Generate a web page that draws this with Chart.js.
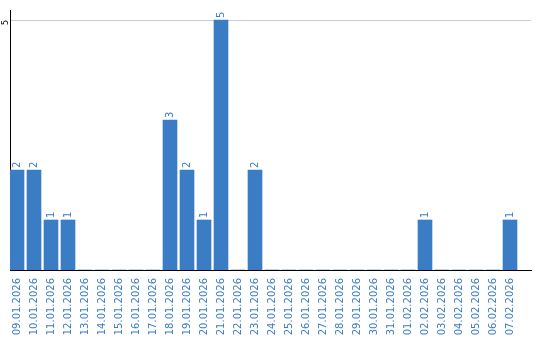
<!DOCTYPE html>
<html>
<head>
<meta charset="utf-8">
<script src="https://cdn.jsdelivr.net/npm/chart.js@4/dist/chart.umd.min.js"></script>
<style>
  html, body { margin: 0; padding: 0; background: #fff; }
  #wrap { width: 540px; height: 340px; }
</style>
</head>
<body>
<div id="wrap"><canvas id="chartdiv" width="540" height="340"></canvas></div>
<script>
var days = ["09.01.2026", "10.01.2026", "11.01.2026", "12.01.2026", "13.01.2026", "14.01.2026",
  "15.01.2026", "16.01.2026", "17.01.2026", "18.01.2026", "19.01.2026", "20.01.2026",
  "21.01.2026", "22.01.2026", "23.01.2026", "24.01.2026", "25.01.2026", "26.01.2026",
  "27.01.2026", "28.01.2026", "29.01.2026", "30.01.2026", "31.01.2026", "01.02.2026",
  "02.02.2026", "03.02.2026", "04.02.2026", "05.02.2026", "06.02.2026", "07.02.2026"];
var counts = [2, 2, 1, 1, 0, 0, 0, 0, 0, 3, 2, 1, 5, 0, 2, 0, 0, 0, 0, 0, 0, 0, 0, 0, 1, 0, 0, 0, 0, 1];
var yTicks = [5];

var blue = "#3b7dc4";

// value labels above the bars, rotated like the axis labels
var barLabels = {
  id: "barLabels",
  afterDatasetsDraw: function (chart) {
    var ctx = chart.ctx;
    var meta = chart.getDatasetMeta(0);
    ctx.save();
    ctx.fillStyle = blue;
    ctx.font = "10px 'DejaVu Sans'";
    ctx.textAlign = "left";
    ctx.textBaseline = "middle";
    meta.data.forEach(function (bar, i) {
      if (!counts[i]) return;
      ctx.save();
      ctx.translate(bar.x, bar.y - 2);
      ctx.rotate(-Math.PI / 2);
      ctx.fillText(String(counts[i]), 0, 0);
      ctx.restore();
    });
    ctx.restore();
  }
};

var chart = new Chart(document.getElementById("chartdiv"), {
  type: "bar",
  data: {
    datasets: [{
      data: counts.map(function (v, i) { return { x: i, y: v }; }),
      backgroundColor: blue,
      borderWidth: 0,
      barThickness: 14
    }]
  },
  plugins: [barLabels],
  options: {
    responsive: false,
    animation: false,
    layout: { padding: { top: 10, right: 9, left: 0, bottom: 0 } },
    plugins: { legend: { display: false }, tooltip: { enabled: false } },
    scales: {
      x: {
        type: "linear",
        offset: false,
        // plot is a bit wider than the 30 day slots, empty room on the right
        min: -7 / 17,
        max: -7 / 17 + 521 / 17,
        afterBuildTicks: function (scale) {
          scale.ticks = days.map(function (d, i) { return { value: i }; });
        },
        grid: { display: false, drawTicks: false },
        border: { display: true, color: "#000", width: 1 },
        ticks: {
          color: blue,
          font: { family: "'DejaVu Sans'", size: 10 },
          minRotation: 90,
          maxRotation: 90,
          autoSkip: false,
          padding: 8,
          callback: function (value) { return days[value]; }
        },
        afterFit: function (scale) { scale.height = 70; }
      },
      y: {
        min: 0,
        max: 5.2,
        afterBuildTicks: function (scale) {
          scale.ticks = yTicks.map(function (v) { return { value: v }; });
        },
        grid: { color: "#cccccc", drawTicks: false },
        border: { display: true, color: "#000", width: 1 },
        ticks: {
          color: "#000",
          font: { family: "'DejaVu Sans'", size: 8 },
          minRotation: 90,
          maxRotation: 90,
          padding: 4
        },
        afterFit: function (scale) { scale.width = 10; }
      }
    }
  }
});
</script>
</body>
</html>
